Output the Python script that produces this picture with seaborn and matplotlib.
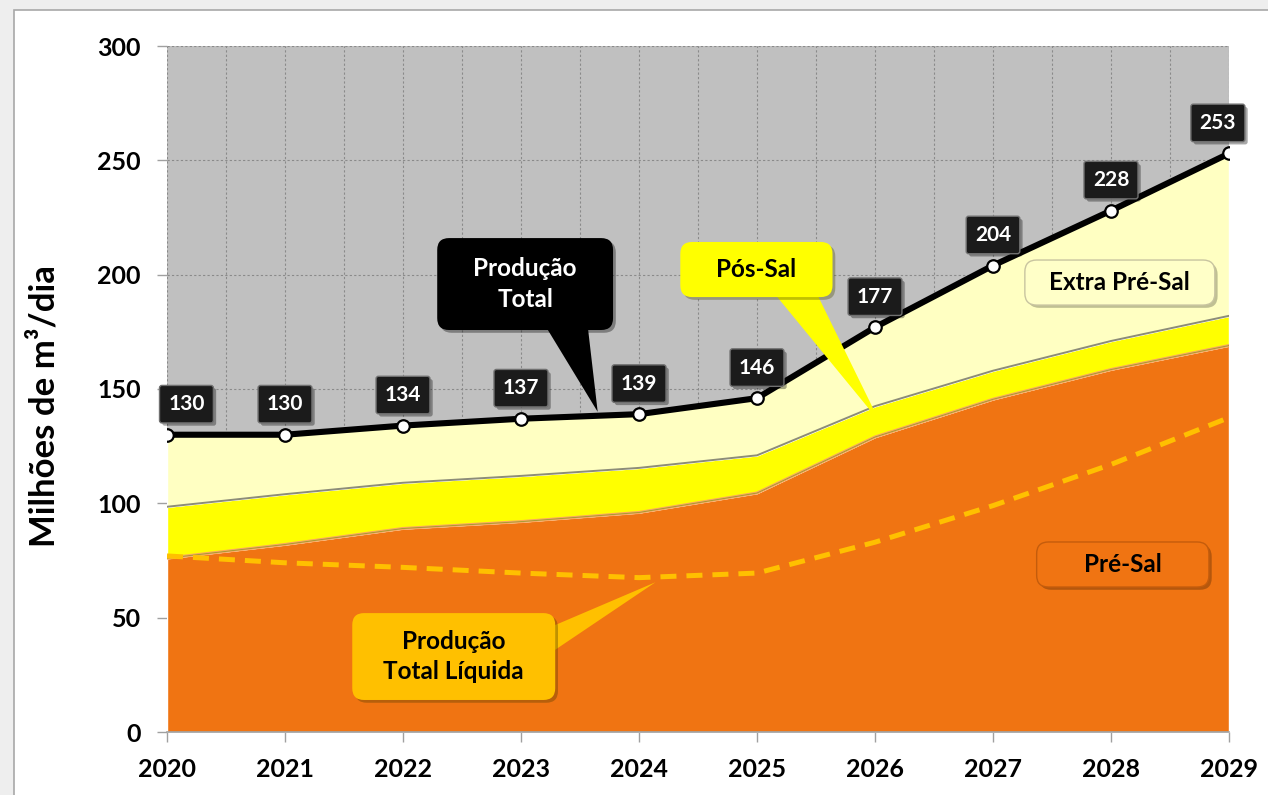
import matplotlib
matplotlib.use('Agg')
import matplotlib.pyplot as plt
import matplotlib.patheffects as pe
from matplotlib.patches import Rectangle, FancyBboxPatch
from matplotlib.ticker import MultipleLocator
import numpy as np
import seaborn as sns

# Data (milhoes de m3/dia)
years = [2020, 2021, 2022, 2023, 2024, 2025, 2026, 2027, 2028, 2029]
total = [130, 130, 134, 137, 139, 146, 177, 204, 228, 253]
pre_sal = [76, 82, 89, 92, 96, 104.5, 129, 145.5, 158.5, 169]
pos_sal = [22.5, 22, 20, 20, 19.5, 16.5, 13.5, 12.5, 12.5, 13]
liquida = [77, 74, 72, 69.5, 67.5, 69.5, 83, 99, 117, 137.5]

# extra pre-sal is what is left up to the total
extra_pre_sal = [t - a - b for t, a, b in zip(total, pre_sal, pos_sal)]

sns.set_style('white')
plt.rcParams['font.family'] = ['Lato', 'DejaVu Sans']
plt.rcParams['font.weight'] = 'bold'

fig = plt.figure(figsize=(12.68, 7.95), dpi=100, facecolor='#eeeeee')
# white chart card with thin gray border (kept behind the axes)
fig.patches.append(Rectangle((14 / 1268, -0.1), 1.2, 1 - 10 / 795 + 0.1, transform=fig.transFigure,
                             fc='white', ec='#a8a8a8', lw=1.2, zorder=-10))

ax = fig.add_axes([167 / 1268, 1 - 732 / 795, 1062 / 1268, 686 / 795])
ax.set_zorder(1)
ax.set_facecolor('#c0c0c0')

# stacked areas
ax.stackplot(years, pre_sal, pos_sal, extra_pre_sal,
             colors=['#f07412', '#ffff00', '#ffffc2'], zorder=2)
tops_orange = np.array(pre_sal)
tops_yellow = tops_orange + np.array(pos_sal)
ax.plot(years, tops_orange, color='#f9a860', lw=2.2, zorder=3)
ax.plot(years, tops_orange, color='#9a9a30', lw=0.6, zorder=3)
ax.plot(years, tops_yellow, color='#8c8c78', lw=1.4, zorder=3)

# Producao total liquida (dashed)
sns.lineplot(x=years, y=liquida, ax=ax, color='#ffc000', lw=3.6,
             linestyle=(0, (3.2, 2.0)), zorder=4)

# Producao total
sns.lineplot(x=years, y=total, ax=ax, color='black', lw=4.4, marker='o',
             markersize=9, markerfacecolor='white', markeredgecolor='black',
             markeredgewidth=1.6, zorder=5)

shadow = [pe.SimplePatchShadow(offset=(2, -2), alpha=0.35), pe.Normal()]

# value labels; the two end ones are nudged inwards like in the original
for i, (yr, v) in enumerate(zip(years, total)):
    dx = 14 if i == 0 else (-8 if i == len(years) - 1 else 0)
    a = ax.annotate(f'{v}', (yr, v), xytext=(dx, 22), textcoords='offset points',
                    ha='center', va='center', color='white', fontsize=15, fontweight='bold',
                    bbox=dict(boxstyle='round,pad=0.42,rounding_size=0.12', fc='#1b1b1b',
                              ec='#707070', lw=1), zorder=6, annotation_clip=False)
    a.get_bbox_patch().set_path_effects(shadow)

ax.set_xlim(2020, 2029)
ax.set_ylim(0, 300)

# ratio of data units per pixel on y vs x, so rounded corners stay round
ASPECT = (300 / 686) / (9 / 1062)


def label_box(x0, x1, y0, y1, txt, fc, tc, ec='none', tail=None):
    """Rounded callout box given by its data-space corners, optional wedge tail."""
    if tail is not None:
        base, tip, tw = tail
        ax.annotate('', xy=tip, xytext=base, textcoords='data', zorder=6.5,
                    arrowprops=dict(arrowstyle=f'wedge,tail_width={tw},shrink_factor=0.5',
                                    mutation_scale=20, fc=fc, ec='none',
                                    shrinkA=0, shrinkB=0))
    box = FancyBboxPatch((x0, y0), x1 - x0, y1 - y0,
                         boxstyle='round,pad=0,rounding_size=0.1', mutation_aspect=ASPECT,
                         fc=fc, ec=ec, lw=1, zorder=7)
    box.set_path_effects(shadow)
    ax.add_patch(box)
    ax.text((x0 + x1) / 2, (y0 + y1) / 2, txt, ha='center', va='center', color=tc,
            fontsize=17.5, fontweight='bold', linespacing=1.4, zorder=8)


label_box(2022.29, 2023.78, 175.8, 216.0, 'Produção\nTotal', '#000000', 'white',
          tail=((2023.37, 182), (2023.65, 140), 1.6))
label_box(2024.35, 2025.64, 190.2, 214.3, 'Pós-Sal', '#ffff00', 'black',
          tail=((2025.3, 195), (2026.04, 135.6), 1.35))
label_box(2021.57, 2023.29, 14.0, 52.0, 'Produção\nTotal Líquida', '#ffc000', 'black',
          tail=((2023.16, 38), (2024.14, 65.5), 0.9))
label_box(2027.27, 2028.88, 186.7, 206.4, 'Extra Pré-Sal', '#ffffc8', 'black', ec='#c8c4a0')
label_box(2027.37, 2028.83, 63.4, 83.1, 'Pré-Sal', '#f07412', 'black', ec='#c45c0c')

ax.set_xticks(years)
ax.set_xticklabels([str(y) for y in years])
ax.xaxis.set_minor_locator(MultipleLocator(0.5))
ax.set_yticks(range(0, 301, 50))
ax.grid(True, which='both', axis='x', color='#8a8a8a', lw=0.8, linestyle=(0, (2, 2)), zorder=1)
ax.grid(True, which='major', axis='y', color='#8a8a8a', lw=0.8, linestyle=(0, (2, 2)), zorder=1)
ax.set_axisbelow(True)

for s in ['top', 'right', 'left']:
    ax.spines[s].set_visible(False)
ax.spines['bottom'].set_color('#a0a0a0')
ax.spines['bottom'].set_linewidth(1.2)
ax.tick_params(axis='both', which='major', length=7, width=1, color='#a0a0a0',
               labelsize=18, labelcolor='black', direction='out')
ax.tick_params(axis='y', pad=12, left=True)
ax.tick_params(axis='x', pad=12, bottom=True)
ax.tick_params(axis='x', which='minor', length=0)
for lbl in ax.get_xticklabels() + ax.get_yticklabels():
    lbl.set_fontweight('bold')

ax.set_xlabel('')
ax.set_ylabel('Milhões de m³/dia', fontsize=25, fontweight='bold', color='black')
ax.yaxis.set_label_coords(-0.1, 0.475)

fig.savefig('out.png', dpi=100, facecolor=fig.get_facecolor())
